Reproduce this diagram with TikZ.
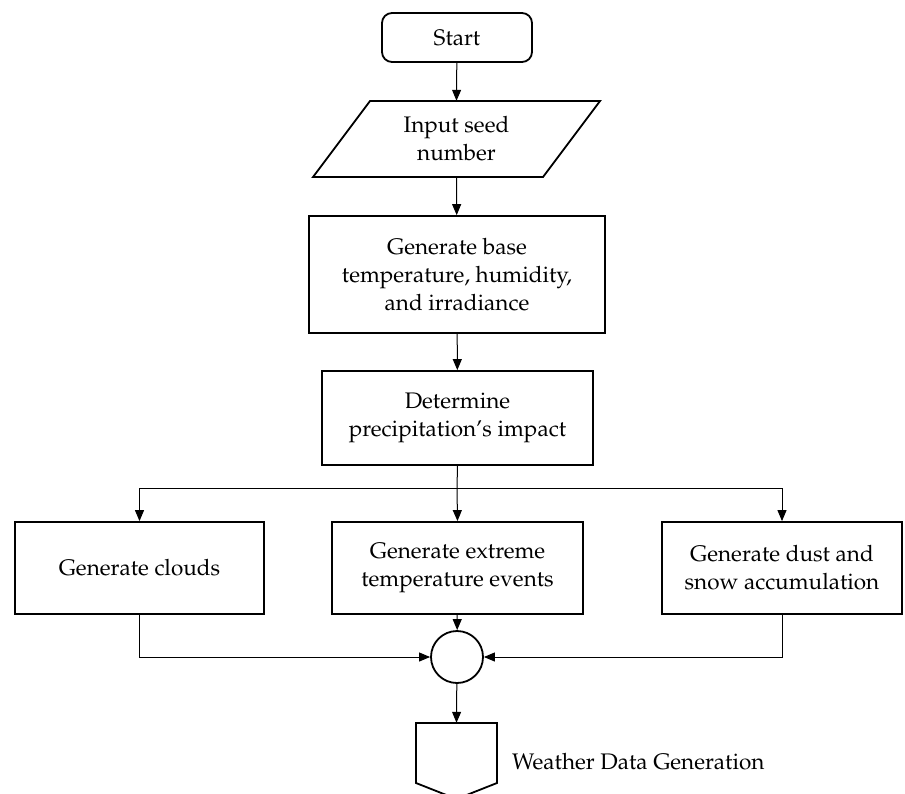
\documentclass[tikz,border=0pt]{standalone}
\usepackage[T1]{fontenc}
\usepackage{mathpazo}
\usetikzlibrary{arrows.meta}
\begin{document}
\begin{tikzpicture}[x=1pt,y=-1pt,
  every node/.style={font=\fontsize{22.5}{28}\selectfont, align=center, inner sep=0pt},
  box/.style={draw, line width=1.8pt, rectangle, minimum width=#1},
  conn/.style={line width=1pt, -{Triangle[length=11pt,width=9pt]}},
  plain/.style={line width=1pt}]
\useasboundingbox (0,0) rectangle (905,793);
\clip (0,0) rectangle (905,793);
% start
\node[draw, line width=1.8pt, rounded corners=10pt, minimum width=150pt, minimum height=49pt] (start) at (457,37.5) {Start};
% input parallelogram
\node[minimum width=230pt, minimum height=76pt] (input) at (456.5,139) {Input seed\\number};
\draw[line width=1.8pt, line join=miter] (370,101) -- (600,101) -- (543,177) -- (313,177) -- cycle;
% base
\node[box=296pt, minimum height=117pt] (base) at (457,274.5) {Generate base\\temperature, humidity,\\and irradiance};
% precip
\node[box=271pt, minimum height=94pt] (precip) at (457.5,418) {Determine\\precipitation's impact};
% branches
\node[box=249pt, minimum height=92pt] (clouds) at (139.5,568) {Generate clouds};
\node[box=251pt, minimum height=92pt] (extreme) at (457.5,568) {Generate extreme\\temperature events};
\node[box=240pt, minimum height=92pt] (dust) at (782,568) {Generate dust and\\snow accumulation};
% merge
\node[draw, circle, line width=1.8pt, minimum size=52pt] (merge) at (457,657) {};
% offpage
\node[minimum width=81pt, minimum height=60pt] (out) at (456.5,753) {};
\draw[line width=1.8pt] (416,723) -- (497,723) -- (497,783) -- (456.5,799) -- (416,783) -- cycle;
\node[anchor=west] (label) at (512,762) {Weather Data Generation};
\coordinate (split) at (457,488);
% connectors
\draw[conn] (start) -- (input.north);
\draw[conn] (input.south) -- (base);
\draw[conn] (base) -- (precip);
\draw[plain] (precip.south) -- (split);
\draw[conn] (split) -| (clouds.north);
\draw[conn] (split) -- (extreme.north);
\draw[conn] (split) -| (dust.north);
\draw[conn] (extreme) -- (merge);
\draw[conn] (clouds.south) |- (merge.west);
\draw[conn] (dust.south) |- (merge.east);
\draw[conn] (merge) -- (out.north);
\end{tikzpicture}
\end{document}
